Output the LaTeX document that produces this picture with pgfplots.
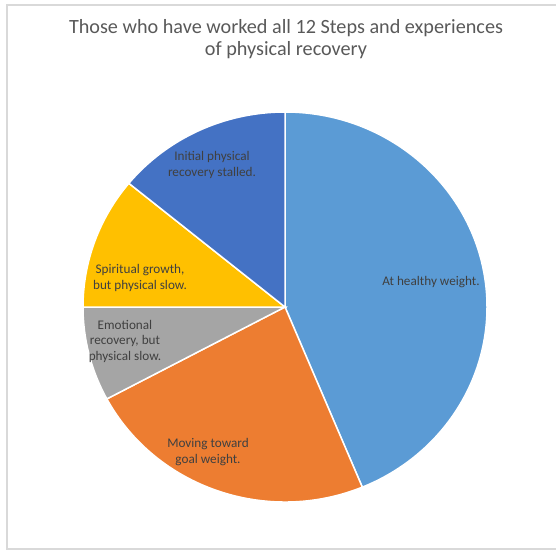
\documentclass[border=0pt]{standalone}
\usepackage{pgfplots}
\pgfplotsset{compat=1.18}
\usepackage{pgfplotstable}
\usepackage{fontspec}
\setmainfont{Carlito}

\definecolor{col0}{HTML}{5B9BD5}
\definecolor{col1}{HTML}{ED7D31}
\definecolor{col2}{HTML}{A5A5A5}
\definecolor{col3}{HTML}{FFC000}
\definecolor{col4}{HTML}{4472C4}
\definecolor{labelgray}{HTML}{404040}
\definecolor{titlegray}{HTML}{595959}
\definecolor{framegray}{HTML}{D9D9D9}

% slices, clockwise from 12 o'clock
\pgfplotstableread{
value
28
15
5
7
9
}\piedata

\begin{document}
\begin{tikzpicture}
% cumulative angles
\def\total{0}
\pgfplotsforeachungrouped \i in {0,...,4}{%
  \pgfplotstablegetelem{\i}{value}\of\piedata
  \pgfmathsetmacro\total{\total+\pgfplotsretval}%
}
\def\cur{90}
\expandafter\let\csname ang0\endcsname\cur
\pgfplotsforeachungrouped \i in {0,...,4}{%
  \pgfplotstablegetelem{\i}{value}\of\piedata
  \pgfmathsetmacro\cur{\cur-360*\pgfplotsretval/\total}%
  \pgfmathtruncatemacro\j{\i+1}%
  \expandafter\let\csname ang\j\endcsname\cur
}

\begin{axis}[
  hide axis,
  scale only axis,
  width=556pt, height=550pt,
  xmin=0, xmax=556, ymin=0, ymax=550,
  clip=false,
]
\addplot[draw=none] coordinates {(0,0)};

\pgfplotsforeachungrouped \i in {0,...,4}{%
  \pgfmathtruncatemacro\j{\i+1}%
  \edef\tmp{\noexpand\fill[fill=col\i, draw=white, line width=1.5pt]
    (axis cs:285,243) -- ++(\csname ang\i\endcsname:202pt and 195pt)
    arc[start angle=\csname ang\i\endcsname, end angle=\csname ang\j\endcsname,
        x radius=202pt, y radius=195pt] -- cycle;}%
  \tmp
}

\draw[framegray, line width=1.2pt] (axis cs:620,545) -- (axis cs:7,545)
  -- (axis cs:7,1) -- (axis cs:620,1);

\node[align=center, text=titlegray, font=\fontsize{20.2}{22}\selectfont]
  at (axis cs:286,511) {Those who have worked all 12 Steps and experiences\\of physical recovery};

\begin{scope}[every node/.style={align=center, text=labelgray, font=\fontsize{13.2}{15.5}\selectfont}]
\node at (axis cs:431,268) {At healthy weight.};
\node at (axis cs:208,98) {Moving toward\\goal weight.};
\node at (axis cs:125,209) {Emotional\\recovery, but\\physical slow.};
\node at (axis cs:140,272) {Spiritual growth,\\but physical slow.};
\node at (axis cs:212,385) {Initial physical\\recovery stalled.};
\end{scope}
\end{axis}
\pgfresetboundingbox
\useasboundingbox (0,0) rectangle (556pt,550pt);
\end{tikzpicture}
\end{document}
